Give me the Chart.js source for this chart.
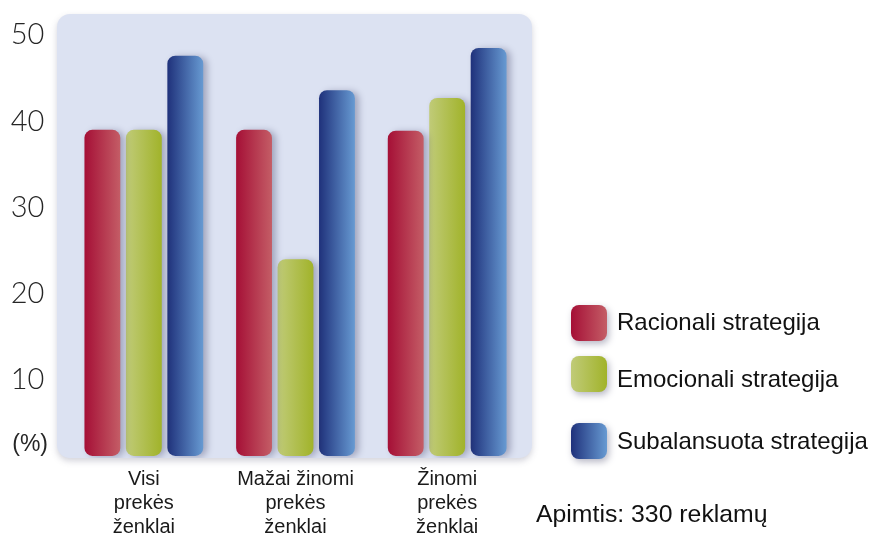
<!DOCTYPE html>
<html>
<head>
<meta charset="utf-8">
<script src="https://cdn.jsdelivr.net/npm/chart.js@4.4.1/dist/chart.umd.min.js"></script>
<style>
  html, body { margin: 0; padding: 0; background: #ffffff; }
  canvas { display: block; }
</style>
</head>
<body>
<canvas id="c" width="869" height="535"></canvas>
<script>
// ---- data ----
const categories = [
  ['Visi', 'prekės', 'ženklai'],
  ['Mažai žinomi', 'prekės', 'ženklai'],
  ['Žinomi', 'prekės', 'ženklai']
];
const seriesNames = ['Racionali strategija', 'Emocionali strategija', 'Subalansuota strategija'];
const racionali = [39, 39, 38.9];
const emocionali = [39, 24, 42.7];
const subalansuota = [47.6, 43.6, 48.5];
const yTickValues = [10, 20, 30, 40, 50];
const unitLabel = '(%)';
const noteText = 'Apimtis: 330 reklamų';

// ---- styles ----
const gradientStops = [
  ['#a50f36', '#c45d66'],
  ['#c0cb78', '#a1b32a'],
  ['#1f317b', '#679ad2']
];
const plotBg = '#dce2f2';
const unitTickPos = 2.5;

const bgPlugin = {
  id: 'plotBg',
  beforeDraw(chart) {
    const { ctx, chartArea: a } = chart;
    ctx.save();
    ctx.fillStyle = '#ffffff';
    ctx.fillRect(0, 0, chart.width, chart.height);
    ctx.shadowColor = 'rgba(80,80,110,0.25)';
    ctx.shadowBlur = 6;
    ctx.shadowOffsetY = 3;
    ctx.fillStyle = plotBg;
    ctx.beginPath();
    ctx.roundRect(a.left - 11, a.top, (a.right + 9) - (a.left - 11), a.bottom - a.top, 13);
    ctx.fill();
    ctx.restore();
  }
};

const barStylePlugin = {
  id: 'barStyle',
  beforeDatasetsDraw(chart) {
    const ctx = chart.ctx;
    chart.data.datasets.forEach((ds, i) => {
      const meta = chart.getDatasetMeta(i);
      meta.data.forEach(el => {
        const l = el.x - el.width / 2, r = el.x + el.width / 2;
        const g = ctx.createLinearGradient(l, 0, r, 0);
        g.addColorStop(0, gradientStops[i][0]);
        g.addColorStop(1, gradientStops[i][1]);
        el.options = Object.assign({}, el.options, { backgroundColor: g });
      });
    });
    ctx.save();
    ctx.shadowColor = 'rgba(50,50,90,0.35)';
    ctx.shadowBlur = 7;
    ctx.shadowOffsetX = 4;
    ctx.shadowOffsetY = 1;
  },
  afterDatasetsDraw(chart) {
    chart.ctx.restore();
  }
};

const legendPlugin = {
  id: 'customLegend',
  afterDraw(chart) {
    const ctx = chart.ctx;
    const swX = 571, sw = 36;
    const swTops = [305, 356, 423];
    const textYs = [323, 380, 442];
    chart.data.datasets.forEach((ds, i) => {
      ctx.save();
      const g = ctx.createLinearGradient(swX, 0, swX + sw, 0);
      g.addColorStop(0, gradientStops[i][0]);
      g.addColorStop(1, gradientStops[i][1]);
      ctx.shadowColor = 'rgba(50,50,90,0.35)';
      ctx.shadowBlur = 7;
      ctx.shadowOffsetX = 2;
      ctx.shadowOffsetY = 3;
      ctx.fillStyle = g;
      ctx.beginPath();
      ctx.roundRect(swX, swTops[i], sw, sw, 8);
      ctx.fill();
      ctx.restore();
      ctx.save();
      ctx.fillStyle = '#111111';
      ctx.font = '24px "Liberation Sans", Arial, sans-serif';
      ctx.textBaseline = 'middle';
      ctx.textAlign = 'left';
      ctx.fillText(ds.label, 617, textYs[i]);
      ctx.restore();
    });
    ctx.save();
    ctx.fillStyle = '#111111';
    ctx.font = '24.8px "Liberation Sans", Arial, sans-serif';
    ctx.textBaseline = 'middle';
    ctx.fillText(noteText, 536, 515);
    ctx.restore();
  }
};

const seriesData = [racionali, emocionali, subalansuota];

new Chart(document.getElementById('c'), {
  type: 'bar',
  data: {
    labels: categories,
    datasets: seriesNames.map((name, i) => ({
      label: name,
      data: seriesData[i],
      backgroundColor: gradientStops[i][1],
      base: 1.2,
      borderRadius: 8,
      borderSkipped: false,
      borderWidth: 0,
      categoryPercentage: 0.82,
      barPercentage: 0.865
    }))
  },
  options: {
    responsive: false,
    animation: false,
    devicePixelRatio: 1,
    layout: { padding: { left: 0, right: 346, top: 14, bottom: 0 } },
    plugins: {
      legend: { display: false },
      tooltip: { enabled: false }
    },
    scales: {
      x: {
        grid: { display: false, drawTicks: false },
        border: { display: false },
        afterFit(s) { s.height = 77; s.paddingLeft = 0; s.paddingRight = 0; },
        ticks: {
          padding: 10,
          color: '#1a1a1a',
          font: { family: '"Liberation Sans", Arial, sans-serif', size: 20, lineHeight: 1.18 },
          maxRotation: 0,
          autoSkip: false
        }
      },
      y: {
        min: 0.96,
        max: 52.43,
        grid: { display: false, drawTicks: false },
        border: { display: false },
        afterFit(s) { s.width = 68; s.paddingTop = 0; s.paddingBottom = 0; },
        afterBuildTicks(axis) {
          axis.ticks = [{ value: unitTickPos }].concat(yTickValues.map(v => ({ value: v })));
        },
        ticks: {
          padding: 20,
          color: '#262626',
          callback: (v) => v === unitTickPos ? unitLabel : String(v) + '\u2009',
          font: (ctx) => ctx.tick && ctx.tick.value === unitTickPos
            ? { family: '"Liberation Sans", Arial, sans-serif', size: 23 }
            : { family: 'Lato, sans-serif', size: 29, weight: 300 }
        }
      }
    }
  },
  plugins: [bgPlugin, barStylePlugin, legendPlugin]
});
</script>
</body>
</html>
